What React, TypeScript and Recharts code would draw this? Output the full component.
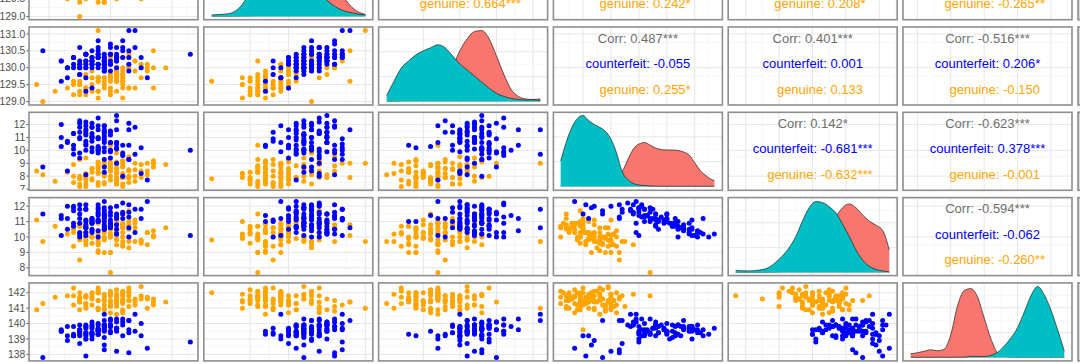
import React from 'react';
import { ScatterChart, Scatter, AreaChart, Area, XAxis, YAxis, CartesianGrid } from 'recharts';

// ---- banknote measurements, genuine notes ----
const gLength = [
  214.8, 214.6, 214.8, 214.8, 215.0, 215.7, 215.5, 214.5, 214.9, 215.2,
  215.3, 215.1, 215.2, 214.7, 215.1, 214.5, 214.6, 215.0, 215.2, 214.7,
  215.0, 215.6, 215.3, 215.7, 215.1, 215.3, 215.5, 215.1, 215.1, 214.8,
  215.2, 214.8, 215.0, 215.6, 215.9, 214.6, 215.5, 215.3, 215.3, 213.9,
  214.4, 214.8, 214.9, 214.9, 214.8, 214.3, 214.8, 214.8, 214.6, 214.5,
  214.6, 215.3, 214.5, 215.4, 214.5, 215.2, 215.7, 215.0, 215.1, 215.1,
  215.1, 215.3, 215.4, 214.5, 215.0, 215.2, 214.6, 214.8, 215.1, 214.9,
  213.8, 215.2, 215.0, 214.4, 215.2, 214.1, 214.9, 214.6, 215.2, 214.6,
  215.1, 214.9, 215.2, 215.2, 215.4, 215.1, 215.2, 215.0, 214.9, 215.0,
  214.7, 215.4, 214.9, 214.5, 214.7, 215.6, 215.0, 214.4, 215.1, 214.7,
];
const gLeft = [
  131.0, 129.7, 129.7, 129.7, 129.6, 130.8, 129.5, 129.6, 129.4, 130.4,
  130.4, 129.5, 130.8, 129.7, 129.9, 129.8, 129.9, 129.9, 129.6, 130.2,
  129.9, 130.5, 130.6, 130.2, 129.7, 130.4, 130.2, 130.3, 130.0, 129.7,
  130.1, 129.7, 130.0, 130.4, 130.4, 130.2, 130.3, 129.9, 130.3, 130.3,
  129.8, 130.1, 129.6, 130.4, 129.4, 129.5, 129.9, 129.9, 129.7, 129.0,
  129.8, 130.6, 130.1, 130.2, 129.4, 129.7, 130.0, 129.6, 130.1, 130.0,
  129.6, 129.7, 129.8, 130.0, 130.0, 130.6, 129.5, 129.7, 129.6, 130.2,
  129.8, 129.9, 129.6, 129.9, 129.9, 129.6, 129.9, 129.8, 130.5, 129.9,
  129.7, 129.8, 129.7, 130.1, 130.7, 129.9, 129.9, 129.6, 130.3, 129.9,
  129.7, 130.0, 129.4, 129.5, 129.6, 129.9, 130.4, 129.7, 130.0, 130.0,
];
const gRight = [
  131.1, 129.7, 129.7, 129.6, 129.7, 130.5, 129.7, 129.2, 129.7, 130.3,
  130.3, 129.6, 129.6, 129.7, 129.7, 129.8, 130.1, 129.7, 129.6, 129.9,
  129.3, 130.0, 130.0, 130.0, 129.9, 130.4, 130.1, 130.3, 130.0, 129.3,
  129.8, 129.7, 129.6, 130.1, 130.0, 130.2, 130.0, 129.4, 130.1, 129.0,
  129.2, 129.6, 129.4, 129.7, 129.1, 129.4, 129.7, 129.7, 129.8, 129.6,
  129.4, 130.0, 130.0, 130.2, 129.5, 129.4, 129.4, 129.4, 129.9, 129.8,
  129.3, 129.4, 129.4, 129.5, 129.8, 130.0, 129.2, 129.3, 129.8, 130.2,
  129.5, 129.5, 130.2, 129.6, 129.7, 129.3, 130.1, 129.4, 129.8, 129.4,
  129.7, 129.6, 129.1, 129.9, 130.2, 129.6, 129.7, 129.2, 129.9, 129.7,
  129.3, 129.9, 129.5, 129.3, 129.5, 129.9, 130.3, 129.5, 129.8, 129.4,
];
const gBottom = [
  9.0, 8.1, 8.7, 7.5, 10.4, 9.0, 7.9, 7.2, 8.2, 9.2,
  7.9, 7.7, 7.9, 7.7, 7.7, 9.3, 8.2, 9.0, 7.4, 8.6,
  8.4, 8.1, 8.4, 8.7, 7.4, 8.0, 8.9, 9.8, 7.4, 8.3,
  7.9, 8.6, 7.7, 8.4, 8.9, 9.4, 8.4, 7.9, 8.5, 8.1,
  8.9, 8.8, 9.3, 9.0, 8.2, 8.3, 8.3, 7.3, 7.9, 7.8,
  7.2, 9.5, 7.8, 7.6, 7.9, 9.2, 9.2, 8.8, 7.9, 8.2,
  8.3, 7.5, 8.0, 8.0, 8.6, 8.8, 7.7, 9.1, 8.6, 8.0,
  8.4, 8.2, 8.7, 7.5, 7.2, 7.6, 8.8, 7.4, 7.9, 7.9,
  8.6, 7.5, 9.0, 7.9, 9.0, 8.9, 8.7, 8.4, 7.4, 8.0,
  8.6, 8.5, 8.2, 7.4, 8.3, 9.0, 9.1, 8.0, 9.1, 7.8,
];
const gTop = [
  9.7, 9.5, 9.6, 10.4, 7.7, 10.1, 9.6, 10.7, 11.0, 10.0,
  11.7, 10.5, 10.8, 10.9, 10.8, 8.5, 9.8, 9.0, 11.5, 10.0,
  10.0, 10.3, 10.8, 10.0, 10.8, 11.0, 9.8, 9.5, 10.5, 9.0,
  10.7, 9.1, 10.5, 10.3, 10.6, 9.7, 9.7, 10.0, 9.3, 9.7,
  9.4, 9.9, 9.0, 9.8, 10.2, 10.2, 10.2, 10.9, 10.3, 9.8,
  10.0, 9.7, 10.9, 10.9, 10.0, 9.4, 10.4, 9.0, 11.0, 10.3,
  9.9, 10.5, 10.6, 10.8, 10.6, 10.6, 10.3, 9.5, 9.8, 11.2,
  11.1, 10.3, 10.0, 10.5, 10.6, 10.7, 10.0, 10.6, 10.9, 10.0,
  10.3, 10.3, 9.7, 10.8, 11.1, 10.2, 9.5, 10.2, 11.2, 10.5,
  9.6, 9.7, 9.9, 10.7, 10.0, 9.5, 10.2, 10.3, 10.2, 10.0,
];
const gDiagonal = [
  141.0, 141.7, 142.2, 142.0, 141.8, 141.4, 141.6, 141.7, 141.9, 140.7,
  141.8, 142.2, 141.4, 141.7, 141.8, 141.6, 141.7, 141.9, 141.5, 141.9,
  141.4, 141.6, 141.5, 141.6, 141.1, 142.3, 142.4, 141.9, 141.8, 142.0,
  141.8, 142.3, 140.7, 141.0, 141.4, 141.8, 141.8, 142.0, 142.1, 141.3,
  142.3, 140.9, 141.7, 140.9, 141.0, 141.8, 141.5, 142.0, 141.1, 142.0,
  141.3, 141.1, 140.9, 141.6, 141.4, 142.0, 141.2, 141.1, 141.3, 141.4,
  141.6, 141.5, 141.5, 141.4, 141.5, 140.8, 141.3, 141.5, 141.8, 139.6,
  140.9, 141.4, 141.2, 141.8, 142.1, 141.7, 141.2, 141.0, 140.9, 141.8,
  140.6, 141.0, 141.9, 141.3, 141.2, 141.5, 141.6, 142.1, 141.5, 142.0,
  141.6, 141.4, 141.5, 141.5, 142.0, 141.7, 141.1, 141.2, 141.5, 141.2,
];

// ---- counterfeit notes ----
const cLength = [
  214.4, 214.9, 214.9, 215.0, 214.7, 215.0, 215.3, 214.8, 215.0, 215.2,
  215.2, 215.1, 215.4, 214.9, 215.1, 215.5, 214.7, 214.7, 214.8, 214.4,
  214.8, 215.1, 215.3, 215.1, 214.7, 214.9, 215.0, 215.5, 215.1, 214.5,
  214.3, 214.5, 214.9, 214.6, 214.2, 214.8, 214.6, 214.9, 214.6, 214.5,
  214.8, 214.7, 214.6, 215.0, 214.5, 214.9, 215.0, 215.3, 214.7, 214.9,
  214.9, 214.6, 214.6, 214.5, 214.5, 215.1, 214.2, 214.4, 214.8, 214.6,
  215.6, 214.9, 214.6, 214.7, 214.3, 215.1, 214.8, 214.8, 215.3, 214.8,
  214.5, 215.0, 214.9, 215.2, 214.4, 214.7, 215.1, 214.9, 214.6, 214.8,
  215.2, 214.8, 215.0, 214.3, 214.6, 215.3, 214.7, 214.5, 214.9, 215.0,
  216.3, 213.9, 214.2, 214.4, 214.8, 214.6, 215.4, 214.7, 215.1, 214.9,
];
const cLeft = [
  130.1, 130.5, 130.3, 130.4, 130.2, 130.2, 130.3, 130.1, 130.2, 130.6,
  130.4, 130.5, 130.7, 130.4, 130.3, 130.4, 130.6, 130.5, 130.5, 130.1,
  130.4, 130.6, 130.8, 130.7, 130.5, 130.0, 130.4, 130.7, 130.2, 130.2,
  130.2, 130.2, 130.5, 130.2, 130.0, 130.1, 129.8, 130.7, 130.4, 130.5,
  130.2, 130.0, 130.2, 130.5, 129.8, 130.6, 130.5, 130.6, 130.2, 129.9,
  130.3, 129.9, 129.7, 130.1, 130.3, 130.0, 129.7, 130.1, 130.4, 130.6,
  130.1, 130.5, 130.1, 130.1, 130.3, 130.3, 130.3, 130.1, 130.3, 130.3,
  130.2, 130.4, 130.3, 130.6, 130.0, 130.2, 130.5, 130.1, 130.1, 130.7,
  130.4, 130.3, 130.2, 129.9, 130.4, 130.1, 130.5, 130.0, 130.2, 130.6,
  130.7, 130.2, 130.2, 130.4, 129.8, 130.3, 130.5, 130.3, 130.4, 130.2,
];
const cRight = [
  130.3, 130.2, 130.1, 130.6, 130.3, 130.2, 130.1, 130.4, 129.9, 130.8,
  130.3, 130.3, 131.1, 129.9, 130.0, 130.0, 130.1, 130.2, 130.3, 130.3,
  130.3, 130.3, 131.1, 130.4, 130.5, 130.3, 130.4, 130.3, 130.2, 130.6,
  130.0, 129.8, 130.2, 130.4, 130.2, 130.1, 130.2, 130.3, 130.4, 130.2,
  130.3, 129.4, 130.4, 130.4, 129.8, 130.4, 130.4, 130.3, 130.1, 130.0,
  129.9, 129.7, 129.3, 130.1, 130.0, 130.3, 129.6, 130.0, 130.6, 130.1,
  129.7, 130.1, 130.0, 130.2, 130.0, 130.6, 130.8, 130.1, 130.5, 130.4,
  130.0, 130.1, 130.2, 130.5, 130.1, 130.0, 130.3, 130.2, 130.0, 130.5,
  130.6, 130.1, 130.1, 129.7, 130.2, 129.9, 130.3, 130.1, 130.0, 130.7,
  130.4, 130.5, 130.2, 130.3, 130.0, 130.4, 130.6, 130.2, 130.2, 130.0,
];
const cBottom = [
  9.7, 11.0, 8.7, 9.9, 11.8, 10.6, 9.3, 9.8, 10.0, 10.4,
  8.0, 10.6, 9.7, 11.4, 10.6, 8.2, 11.8, 12.1, 11.0, 10.1,
  10.1, 12.3, 11.6, 10.5, 9.9, 10.2, 9.4, 10.2, 10.1, 9.8,
  10.7, 12.3, 10.6, 10.5, 11.0, 11.9, 10.7, 9.3, 11.3, 11.8,
  10.0, 10.2, 11.2, 10.6, 11.4, 11.9, 11.4, 9.3, 10.7, 9.9,
  11.9, 11.9, 10.4, 12.1, 11.0, 11.6, 10.3, 11.3, 12.5, 8.1,
  7.7, 11.4, 11.6, 11.0, 8.4, 10.2, 11.6, 10.0, 12.1, 10.2,
  10.9, 11.5, 11.6, 9.8, 10.4, 11.3, 12.7, 10.8, 11.5, 10.9,
  9.6, 10.3, 11.2, 10.6, 12.2, 10.4, 11.1, 9.4, 8.3, 10.0,
  10.0, 8.7, 12.0, 11.3, 10.9, 10.0, 11.8, 11.0, 9.0, 11.2,
];
const cTop = [
  11.7, 11.5, 11.7, 10.9, 10.9, 10.7, 12.1, 11.5, 11.9, 11.2,
  11.5, 11.5, 11.8, 11.0, 10.8, 11.2, 10.5, 10.4, 11.0, 12.0,
  12.1, 10.2, 10.6, 11.2, 10.3, 11.4, 11.6, 11.8, 11.3, 12.1,
  10.5, 11.2, 11.5, 11.8, 11.2, 11.1, 11.1, 11.2, 10.8, 10.2,
  11.9, 11.0, 10.7, 11.1, 10.0, 10.5, 10.7, 11.3, 11.0, 12.3,
  10.6, 10.1, 11.0, 10.3, 11.5, 10.5, 11.4, 10.7, 10.0, 12.1,
  12.3, 10.5, 10.6, 11.2, 12.0, 11.3, 10.4, 11.6, 10.0, 11.8,
  10.9, 10.6, 10.8, 11.6, 11.9, 11.2, 10.2, 11.3, 10.6, 11.1,
  12.2, 11.4, 10.9, 11.2, 10.3, 11.6, 10.9, 11.8, 11.9, 11.4,
  10.1, 11.5, 10.1, 10.9, 11.0, 11.8, 10.3, 11.1, 12.0, 10.7,
];
const cDiagonal = [
  139.8, 139.5, 140.2, 140.3, 139.7, 139.9, 140.2, 139.9, 139.4, 140.3,
  139.2, 140.1, 140.6, 139.9, 139.7, 139.2, 139.8, 139.9, 140.0, 139.2,
  139.6, 139.6, 140.2, 139.7, 140.1, 139.6, 140.2, 140.0, 140.3, 139.9,
  139.8, 139.2, 139.9, 139.7, 139.5, 139.5, 139.4, 138.3, 139.8, 139.6,
  139.3, 139.2, 139.9, 139.9, 139.3, 139.8, 139.9, 138.1, 139.4, 140.6,
  139.8, 139.0, 139.3, 139.4, 139.5, 139.7, 139.5, 139.2, 139.3, 137.9,
  138.4, 139.9, 139.8, 139.3, 138.9, 139.5, 139.6, 139.5, 139.6, 139.3,
  139.6, 139.8, 139.7, 140.1, 139.3, 139.4, 139.7, 139.9, 139.2, 139.6,
  139.9, 139.6, 139.5, 139.2, 139.4, 139.4, 139.0, 138.7, 138.6, 139.8,
  138.8, 137.8, 139.6, 139.2, 139.7, 139.0, 139.5, 139.4, 138.2, 139.1,
];

// ---- density curves (relative heights) ----
const leftDensX = [129.0, 129.1, 129.2, 129.3, 129.4, 129.5, 129.6, 129.7, 129.8, 129.9, 130.0, 130.1, 130.2, 130.3, 130.4, 130.5, 130.6, 130.7, 130.8, 130.9, 131.0];
const leftDensCounterfeit = [0.2, 0.3, 0.4, 0.5, 0.6, 0.8, 1, 3, 8, 18, 33, 50, 64, 70, 66, 54, 38, 22, 11, 5, 2];
const leftDensGenuine = [1.5, 2, 2.5, 5, 12, 25, 38, 48, 51, 49, 46, 42, 37, 30, 23, 16, 10, 6, 4, 2.5, 1.5];

const rightDensX = [129.0, 129.1, 129.2, 129.3, 129.4, 129.5, 129.6, 129.7, 129.8, 129.9, 130.0, 130.1, 130.2, 130.3, 130.4, 130.5, 130.6, 130.7, 130.8, 130.9, 131.0, 131.1];
const rightDensCounterfeit = [0.3, 0.5, 0.8, 1, 3, 6, 10, 15, 22, 34, 50, 62, 69, 70, 62, 45, 27, 12, 5, 2.5, 2, 2.5];
const rightDensGenuine = [6, 20, 33, 40, 46, 50, 53, 56, 53, 45, 37, 31, 25, 19, 13, 8, 5, 3, 2, 1.5, 1.5, 1];

const bottomDensX = [7.2, 7.4, 7.6, 7.8, 8.0, 8.2, 8.4, 8.6, 8.8, 9.0, 9.2, 9.4, 9.6, 9.8, 10.0, 10.2, 10.4, 10.6, 10.8, 11.0, 11.2, 11.4, 11.6, 11.8, 12.0, 12.2, 12.4, 12.6, 12.7];
const bottomDensCounterfeit = [1, 2, 3, 4, 6, 6.5, 7, 7.5, 8, 9, 11, 15, 27, 38, 43, 44.6, 42, 39, 37.5, 37, 37, 36.5, 35, 32, 24, 16, 11, 7, 6];
const bottomDensGenuine = [26, 45, 60, 69, 72, 67, 63, 60, 56, 48, 34, 15, 7, 3, 1.5, 1, 0.5, 0.3, 0.2, 0.2, 0.2, 0.2, 0.2, 0.2, 0.2, 0.2, 0.2, 0.2, 0.2];

const topDensX = [7.7, 7.9, 8.1, 8.3, 8.5, 8.7, 8.9, 9.1, 9.3, 9.5, 9.7, 9.9, 10.1, 10.3, 10.5, 10.7, 10.9, 11.1, 11.3, 11.5, 11.7, 11.9, 12.1, 12.3];
const topDensCounterfeit = [0.2, 0.2, 0.2, 0.2, 0.3, 0.4, 0.6, 1, 2, 3, 5, 9, 16, 27, 40, 54, 63, 66.7, 63, 56, 50, 46, 41, 22];
const topDensGenuine = [2, 1.6, 1.5, 2, 2.8, 5, 10, 16, 24, 35, 50, 63, 69, 68, 64, 58, 47, 35, 22, 12, 6, 3, 1.5, 0.5];

const diagDensX = [137.8, 138.0, 138.2, 138.4, 138.6, 138.8, 139.0, 139.2, 139.4, 139.6, 139.8, 140.0, 140.2, 140.4, 140.6, 140.8, 141.0, 141.2, 141.4, 141.6, 141.8, 142.0, 142.2, 142.4];
const diagDensCounterfeit = [3.5, 4.6, 6, 7.5, 6.5, 8, 22, 50, 65, 67, 59, 38.5, 18.5, 4.5, 1.2, 0.4, 0.2, 0.2, 0.2, 0.2, 0.2, 0.2, 0.2, 0.2];
const diagDensGenuine = [0.2, 0.2, 0.2, 0.2, 0.2, 0.2, 0.2, 0.2, 0.2, 1.2, 1, 1, 2, 5, 11, 19, 29, 44, 60, 69, 61, 46, 27, 6];

// ---- correlation labels: [row var, column var, overall, counterfeit, genuine] ----
const corrRows: [string, string, string, string, string][] = [
  ['Left', 'Right', '', '', '0.664***'],
  ['Left', 'Bottom', '', '', '0.242*'],
  ['Left', 'Top', '', '', '0.208*'],
  ['Left', 'Diagonal', '', '', '-0.265**'],
  ['Right', 'Bottom', '0.487***', '-0.055', '0.255*'],
  ['Right', 'Top', '0.401***', '0.001', '0.133'],
  ['Right', 'Diagonal', '-0.516***', '0.206*', '-0.150'],
  ['Bottom', 'Top', '0.142*', '-0.681***', '-0.632***'],
  ['Bottom', 'Diagonal', '-0.623***', '0.378***', '-0.001'],
  ['Top', 'Diagonal', '-0.594***', '-0.062', '-0.260**'],
];

const variables = ['Length', 'Left', 'Right', 'Bottom', 'Top', 'Diagonal'];

const genuine: Record<string, number[]> = {
  Length: gLength, Left: gLeft, Right: gRight, Bottom: gBottom, Top: gTop, Diagonal: gDiagonal,
};
const counterfeit: Record<string, number[]> = {
  Length: cLength, Left: cLeft, Right: cRight, Bottom: cBottom, Top: cTop, Diagonal: cDiagonal,
};
const densities: Record<string, { x: number[]; c: number[]; g: number[] }> = {
  Left: { x: leftDensX, c: leftDensCounterfeit, g: leftDensGenuine },
  Right: { x: rightDensX, c: rightDensCounterfeit, g: rightDensGenuine },
  Bottom: { x: bottomDensX, c: bottomDensCounterfeit, g: bottomDensGenuine },
  Top: { x: topDensX, c: topDensCounterfeit, g: topDensGenuine },
  Diagonal: { x: diagDensX, c: diagDensCounterfeit, g: diagDensGenuine },
};

type Scale = { domain: [number, number]; major: number[]; minor: number[]; digits: number };

// axis ranges carry ggplot's 5% expansion
const scales: Record<string, Scale> = {
  Length: { domain: [213.675, 216.425], major: [214, 214.5, 215, 215.5, 216], minor: [213.75, 214.25, 214.75, 215.25, 215.75, 216.25], digits: 1 },
  Left: { domain: [128.9, 131.1], major: [129, 129.5, 130, 130.5, 131], minor: [129.25, 129.75, 130.25, 130.75], digits: 1 },
  Right: { domain: [128.895, 131.205], major: [129, 129.5, 130, 130.5, 131], minor: [129.25, 129.75, 130.25, 130.75], digits: 1 },
  Bottom: { domain: [6.925, 12.975], major: [7, 8, 9, 10, 11, 12], minor: [7.5, 8.5, 9.5, 10.5, 11.5, 12.5], digits: 0 },
  Top: { domain: [7.47, 12.53], major: [8, 9, 10, 11, 12], minor: [7.5, 8.5, 9.5, 10.5, 11.5, 12.5], digits: 0 },
  Diagonal: { domain: [137.57, 142.63], major: [138, 139, 140, 141, 142], minor: [138.5, 139.5, 140.5, 141.5, 142.5], digits: 0 },
};

const BLUE = '#0000FF';
const ORANGE = '#FFA500';
const RED = '#F8766D';
const TEAL = '#00BFC4';
const FONT = '"Liberation Sans", Arial, sans-serif';

const COL_LEFT = 29;
const COL_PITCH = 174.8;
const PANEL_W = 169;
const ROW_TOP = -58.3;
const ROW_PITCH = 85.3;
const PANEL_H = 78;
const AXIS_W = 29;

const MARGIN = { top: 0, right: 0, bottom: 0, left: 0 };

const dot = (color: string) => (p: any) => <circle cx={p.cx} cy={p.cy} r={2.5} fill={color} />;

function grids(xs: Scale, ys: Scale) {
  return [
    <CartesianGrid key="minor" verticalValues={xs.minor} horizontalValues={ys.minor} stroke="#F1F1F1" strokeWidth={0.6} />,
    <CartesianGrid key="major" verticalValues={xs.major} horizontalValues={ys.major} stroke="#E6E6E6" strokeWidth={1} />,
  ];
}

function yAxisFor(ys: Scale, show: boolean, key?: string) {
  return (
    <YAxis
      type="number"
      dataKey={key}
      domain={ys.domain}
      allowDataOverflow
      hide={!show}
      width={AXIS_W}
      ticks={ys.major}
      interval={0}
      tickFormatter={(v: number) => v.toFixed(ys.digits)}
      tick={{ fontSize: 10.3, fill: '#4D4D4D', fontFamily: FONT }}
      tickLine={{ stroke: '#4D4D4D' }}
      axisLine={false}
      tickSize={2.5}
      tickMargin={1.2}
    />
  );
}

function ScatterPanel({ xVar, yVar, showAxis }: { xVar: string; yVar: string; showAxis: boolean }) {
  const xs = scales[xVar];
  const ys = scales[yVar];
  const gPts = genuine[xVar].map((v, i) => ({ x: v, y: genuine[yVar][i] }));
  const cPts = counterfeit[xVar].map((v, i) => ({ x: v, y: counterfeit[yVar][i] }));
  return (
    <ScatterChart width={PANEL_W + (showAxis ? AXIS_W : 0)} height={PANEL_H} margin={MARGIN}>
      {grids(xs, ys)}
      <XAxis type="number" dataKey="x" domain={xs.domain} allowDataOverflow hide />
      {yAxisFor(ys, showAxis, 'y')}
      <Scatter data={gPts} fill={ORANGE} shape={dot(ORANGE)} isAnimationActive={false} />
      <Scatter data={cPts} fill={BLUE} shape={dot(BLUE)} isAnimationActive={false} />
    </ScatterChart>
  );
}

function DensityPanel({ v }: { v: string }) {
  const d = densities[v];
  const xs = scales[v];
  const table = d.x.map((x, i) => ({ x, c: d.c[i], g: d.g[i] }));
  const top = Math.max(...d.c, ...d.g);
  const ys: Scale = {
    domain: [-0.05 * top, 1.05 * top],
    major: [0, top * 0.35, top * 0.7],
    minor: [top * 0.175, top * 0.525, top * 0.875],
    digits: 0,
  };
  return (
    <AreaChart width={PANEL_W} height={PANEL_H} margin={MARGIN} data={table}>
      {grids(xs, ys)}
      <XAxis type="number" dataKey="x" domain={xs.domain} allowDataOverflow hide />
      <YAxis type="number" domain={ys.domain} allowDataOverflow hide />
      <Area dataKey="c" type="monotone" baseValue={0} fill={RED} fillOpacity={1} stroke="#222" strokeWidth={0.7} dot={false} activeDot={false} isAnimationActive={false} />
      <Area dataKey="g" type="monotone" baseValue={0} fill={TEAL} fillOpacity={1} stroke="#222" strokeWidth={0.7} dot={false} activeDot={false} isAnimationActive={false} />
    </AreaChart>
  );
}

function CorrPanel({ xVar, yVar }: { xVar: string; yVar: string }) {
  const xs = scales[xVar];
  const ys = scales[yVar];
  return (
    <ScatterChart width={PANEL_W} height={PANEL_H} margin={MARGIN}>
      {grids(xs, ys)}
      <XAxis type="number" dataKey="x" domain={xs.domain} allowDataOverflow hide />
      <YAxis type="number" dataKey="y" domain={ys.domain} allowDataOverflow hide />
      <Scatter data={[]} isAnimationActive={false} />
    </ScatterChart>
  );
}

export default function App() {
  const panels: React.ReactNode[] = [];
  const borders: React.ReactNode[] = [];
  for (let r = 1; r < variables.length; r++) {
    const top = ROW_TOP + (r - 1) * ROW_PITCH;
    for (let c = 0; c < variables.length; c++) {
      const left = COL_LEFT + c * COL_PITCH;
      const xVar = variables[c];
      const yVar = variables[r];
      let body: React.ReactNode;
      let offset = 0;
      if (c < r) {
        body = <ScatterPanel xVar={xVar} yVar={yVar} showAxis={c === 0} />;
        if (c === 0) offset = AXIS_W;
      } else if (c === r) {
        body = <DensityPanel v={xVar} />;
      } else {
        body = <CorrPanel xVar={xVar} yVar={yVar} />;
      }
      panels.push(
        <div key={`${r}-${c}`} style={{ position: 'absolute', left: left - offset, top }}>
          {body}
        </div>
      );
      borders.push(
        <rect key={`b${r}-${c}`} x={left} y={top} width={PANEL_W} height={PANEL_H} fill="none" stroke="#8E8E8E" strokeWidth={1.6} />
      );
    }
    // edge of the facet strip on the right, mostly outside the picture
    borders.push(
      <rect key={`s${r}`} x={1078} y={top} width={20} height={PANEL_H} fill="#D9D9D9" stroke="#8E8E8E" strokeWidth={1.6} />
    );
  }

  const texts = corrRows.map(([rv, cv, all, cf, gen]) => {
    const r = variables.indexOf(rv);
    const c = variables.indexOf(cv);
    const cx = COL_LEFT + c * COL_PITCH + PANEL_W / 2;
    const top = ROW_TOP + (r - 1) * ROW_PITCH;
    return (
      <g key={`${rv}-${cv}`} fontFamily={FONT} fontSize={13} textAnchor="middle" dominantBaseline="central">
        {all && <text x={cx} y={top + 11.3} fill="#6E6E6E">{`Corr: ${all}`}</text>}
        {cf && <text x={cx} y={top + 36.6} fill={BLUE}>{`counterfeit: ${cf}`}</text>}
        <text x={cx} y={top + 62} fill={ORANGE}>{`\u00A0\u00A0\u00A0\u00A0genuine: ${gen}`}</text>
      </g>
    );
  });

  return (
    <div style={{ position: 'absolute', left: 0, top: 0, width: 1080, height: 364, overflow: 'hidden', background: '#FFFFFF', fontFamily: FONT }}>
      {panels}
      <svg width={1080} height={364} style={{ position: 'absolute', left: 0, top: 0, pointerEvents: 'none' }}>
        {borders}
        {texts}
      </svg>
    </div>
  );
}
